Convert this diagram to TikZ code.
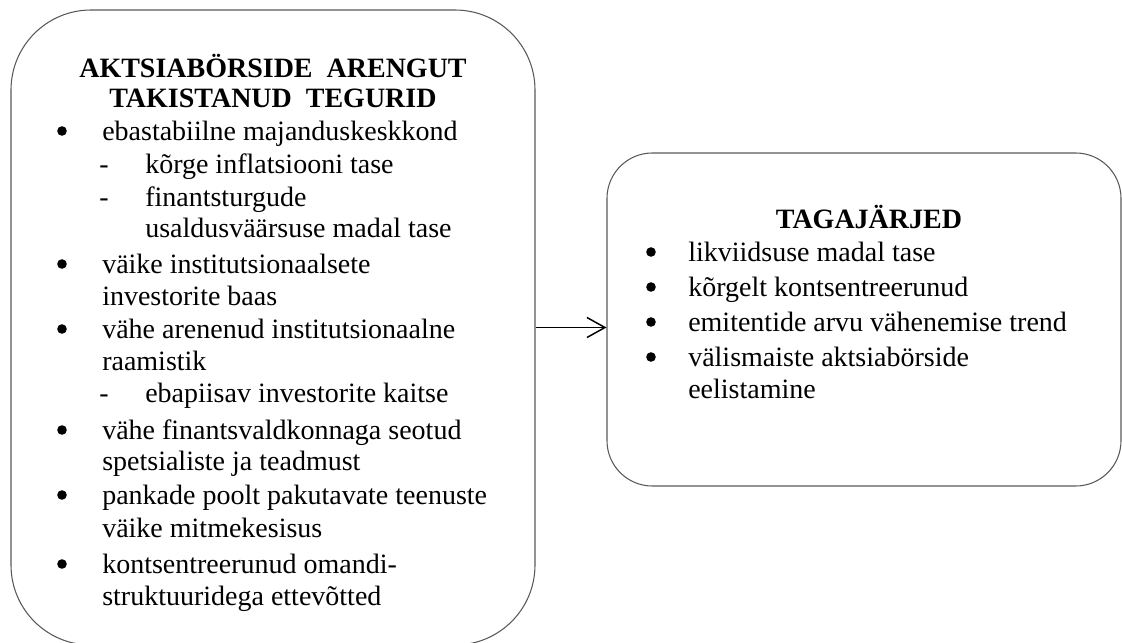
\documentclass[tikz,border=0pt]{standalone}
\usepackage{fontspec}
\setmainfont{Liberation Serif}
\usetikzlibrary{arrows.meta}
\begin{document}
\begin{tikzpicture}[x=0.75pt,y=-0.75pt,
  box/.style={draw=black!65, line width=0.8pt, fill=none, inner sep=0pt},
  txt/.style={anchor=base west, inner sep=0pt, font=\fontsize{21}{25}\selectfont},
  hd/.style={anchor=base, inner sep=0pt, font=\fontsize{21}{25}\selectfont\bfseries},
  bul/.style={circle, fill=black, inner sep=0pt, minimum size=7.2pt},
  arr/.style={-{Straight Barb[length=13.5pt,width=15pt]}, line width=1.1pt}]
\useasboundingbox (0,0) rectangle (1122,643);
% boxes
\node[box, rounded corners=60pt, minimum width=393pt, minimum height=476.25pt] (L) at (273,327.5) {};
\node[box, rounded corners=34pt, minimum width=385.5pt, minimum height=249.75pt] (R) at (864,319.5) {};
% connector
\draw[arr] (L.east) -- (L.east -| R.west);
% left box text
\node[hd] (h1) at (273,77) {AKTSIABÖRSIDE\ \ ARENGUT};
\node[hd] (h2) at (273,107) {TAKISTANUD\ \ TEGURID};
\node[bul] (b1) at (62,131) {};
\node[txt] (t1) at (102,140) {ebastabiilne majanduskeskkond};
\node[txt] (d1) at (99,173) {-};
\node[txt] (t2) at (145,173) {kõrge inflatsiooni tase};
\node[txt] (d2) at (99,206) {-};
\node[txt] (t3) at (145,206) {finantsturgude};
\node[txt] (t4) at (145,237) {usaldusväärsuse madal tase};
\node[bul] (b2) at (62,264) {};
\node[txt] (t5) at (102,273) {väike institutsionaalsete};
\node[txt] (t6) at (102,305) {investorite baas};
\node[bul] (b3) at (62,329) {};
\node[txt] (t7) at (102,338) {vähe arenenud institutsionaalne};
\node[txt] (t8) at (102,370) {raamistik};
\node[txt] (d3) at (99,402) {-};
\node[txt] (t9) at (145,402) {ebapiisav investorite kaitse};
\node[bul] (b4) at (62,430) {};
\node[txt] (t10) at (102,439) {vähe finantsvaldkonnaga seotud};
\node[txt] (t11) at (102,470) {spetsialiste ja teadmust};
\node[bul] (b5) at (62,495) {};
\node[txt] (t12) at (102,504) {pankade poolt pakutavate teenuste};
\node[txt] (t13) at (102,537) {väike mitmekesisus};
\node[bul] (b6) at (62,564) {};
\node[txt] (t14) at (102,573) {kontsentreerunud omandi-};
\node[txt] (t15) at (102,605) {struktuuridega ettevõtted};
% right box text
\node[hd] (h3) at (869,228) {TAGAJÄRJED};
\node[bul] (c1) at (651,252) {};
\node[txt] (u1) at (688,261) {likviidsuse madal tase};
\node[bul] (c2) at (651,287) {};
\node[txt] (u2) at (688,296) {kõrgelt kontsentreerunud};
\node[bul] (c3) at (651,322) {};
\node[txt] (u3) at (688,331) {emitentide arvu vähenemise trend};
\node[bul] (c4) at (651,357) {};
\node[txt] (u4) at (688,366) {välismaiste aktsiabörside};
\node[txt] (u5) at (688,398) {eelistamine};
\end{tikzpicture}
\end{document}
